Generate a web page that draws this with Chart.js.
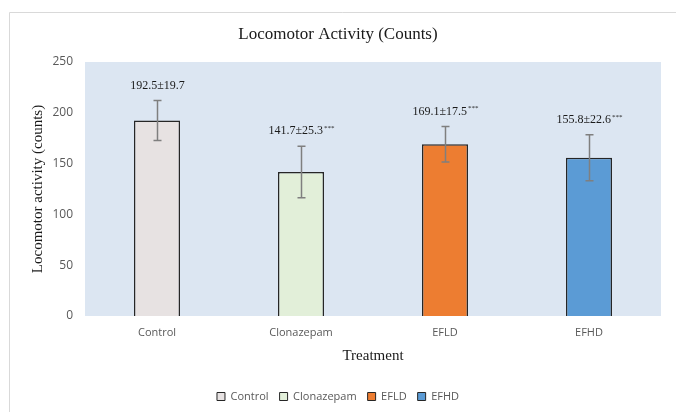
<!DOCTYPE html>
<html>
<head>
<meta charset="utf-8">
<script src="https://cdn.jsdelivr.net/npm/chart.js@4.4.0/dist/chart.umd.min.js"></script>
<style>
  html, body { margin: 0; padding: 0; background: #fff; }
  #wrap { position: relative; width: 676px; height: 412px; }
</style>
</head>
<body>
<div id="wrap"><canvas id="chart" width="676" height="412"></canvas></div>
<script>
  var categories = ["Control", "Clonazepam", "EFLD", "EFHD"];
  var means = [192.5, 141.7, 169.1, 155.8];
  var sds = [19.7, 25.3, 17.5, 22.6];
  var stars = ["", "***", "***", "***"];
  var barColors = ["#e7e2e2", "#e2efd9", "#ed7d31", "#5b9bd5"];
  var yTicks = [0, 50, 100, 150, 200, 250];

  var SERIF = "'Liberation Serif', 'Times New Roman', serif";
  var SANS = "'Open Sans', 'Liberation Sans', sans-serif";

  // page frame + light blue plot background
  var backdrop = {
    id: "backdrop",
    beforeDraw: function (chart) {
      var ctx = chart.ctx;
      var a = chart.chartArea;
      ctx.save();
      ctx.fillStyle = "#ffffff";
      ctx.fillRect(0, 0, chart.width, chart.height);
      ctx.strokeStyle = "#d9d9d9";
      ctx.lineWidth = 1;
      ctx.beginPath();
      ctx.moveTo(9.5, chart.height);
      ctx.lineTo(9.5, 12.5);
      ctx.lineTo(chart.width, 12.5);
      ctx.stroke();
      ctx.fillStyle = "#dce6f2";
      ctx.fillRect(a.left, a.top, a.right - a.left, a.bottom - a.top);
      ctx.restore();
    },
  };

  // error bars and mean±sd labels
  var errorBars = {
    id: "errorBars",
    afterDatasetsDraw: function (chart) {
      var ctx = chart.ctx;
      var xs = chart.scales.x;
      var ys = chart.scales.y;
      ctx.save();
      for (var i = 0; i < means.length; i++) {
        var x = Math.round(xs.getPixelForValue(i)) + 0.5;
        var top = ys.getPixelForValue(means[i] + sds[i]);
        var bot = ys.getPixelForValue(means[i] - sds[i]);
        ctx.strokeStyle = "#7f7f7f";
        ctx.lineWidth = 1.5;
        ctx.beginPath();
        ctx.moveTo(x, top);
        ctx.lineTo(x, bot);
        ctx.moveTo(x - 4, top);
        ctx.lineTo(x + 4, top);
        ctx.moveTo(x - 4, bot);
        ctx.lineTo(x + 4, bot);
        ctx.stroke();

        var base = means[i].toFixed(1) + "±" + sds[i].toFixed(1);
        ctx.font = "12px " + SERIF;
        var wBase = ctx.measureText(base).width;
        ctx.font = "7px " + SERIF;
        var wStar = stars[i] ? ctx.measureText(stars[i]).width + 1 : 0;
        var left = x - (wBase + wStar) / 2;
        var ty = top - 15;
        ctx.fillStyle = "#1a1a1a";
        ctx.textAlign = "left";
        ctx.textBaseline = "middle";
        ctx.font = "12px " + SERIF;
        ctx.fillText(base, left, ty);
        if (stars[i]) {
          ctx.font = "7px " + SERIF;
          ctx.fillText(stars[i], left + wBase + 1, ty - 3);
        }
      }
      ctx.restore();
    },
  };

  new Chart(document.getElementById("chart"), {
    type: "bar",
    data: {
      labels: categories,
      datasets: [
        {
          data: means,
          backgroundColor: barColors,
          borderColor: "#262626",
          borderWidth: 1.5,
          categoryPercentage: 1,
          barPercentage: 0.32,
        },
      ],
    },
    plugins: [backdrop, errorBars],
    options: {
      responsive: false,
      animation: false,
      layout: { padding: { left: 0, right: 0, top: 0, bottom: 0 } },
      plugins: {
        tooltip: { enabled: false },
        title: {
          display: true,
          text: "Locomotor Activity (Counts)",
          color: "#1a1a1a",
          font: { family: SERIF, size: 17, weight: "normal" },
          padding: { top: 24, bottom: 17.6 },
        },
        legend: {
          position: "bottom",
          labels: {
            color: "#595959",
            font: { family: SANS, size: 11 },
            boxWidth: 8,
            boxHeight: 8,
            padding: 11,
            generateLabels: function () {
              return categories.map(function (c, i) {
                return {
                  text: c,
                  fillStyle: barColors[i],
                  strokeStyle: "#262626",
                  lineWidth: 1,
                  fontColor: "#595959",
                  index: i,
                };
              });
            },
          },
        },
      },
      scales: {
        x: {
          grid: { display: false, drawTicks: false },
          border: { display: false },
          ticks: { color: "#595959", font: { family: SANS, size: 11 }, padding: 10 },
          title: {
            display: true,
            text: "Treatment",
            color: "#1a1a1a",
            font: { family: SERIF, size: 15 },
            padding: { top: 0, bottom: 15 },
          },
          afterFit: function (s) { s.height = 64; },
        },
        y: {
          min: 0,
          max: 250,
          grid: { display: false, drawTicks: false },
          border: { display: false },
          ticks: { color: "#595959", font: { family: SANS, size: 12 }, padding: 12 },
          afterBuildTicks: function (s) {
            s.ticks = yTicks.map(function (v) { return { value: v }; });
          },
          title: {
            display: true,
            text: "Locomotor activity (counts)",
            color: "#1a1a1a",
            font: { family: SERIF, size: 15 },
            padding: { top: 29, bottom: 0 },
          },
          afterFit: function (s) { s.width = 85; },
        },
        yRight: {
          position: "right",
          min: 0,
          max: 250,
          grid: { display: false, drawTicks: false },
          border: { display: false },
          ticks: { display: false },
          afterFit: function (s) { s.width = 15; },
        },
      },
    },
  });
</script>
</body>
</html>
